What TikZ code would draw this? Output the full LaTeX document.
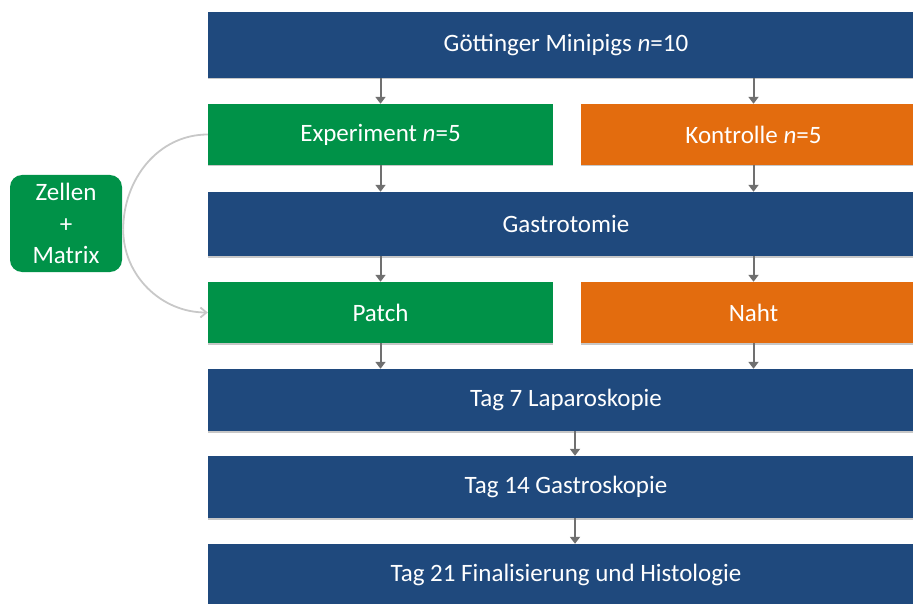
\documentclass[tikz,border=0pt]{standalone}
\usepackage{fontspec}
\setmainfont{Carlito}
\usetikzlibrary{arrows.meta,shadows}
\definecolor{stepblue}{RGB}{31,73,125}
\definecolor{stepgreen}{RGB}{0,146,72}
\definecolor{steporange}{RGB}{227,108,14}
\definecolor{arrowgray}{RGB}{112,112,112}
\definecolor{curvegray}{RGB}{200,200,200}
\tikzset{
box/.style={minimum height=62pt,inner sep=0pt,text=white,font=\fontsize{25}{30}\selectfont,
  drop shadow={shadow xshift=0pt,shadow yshift=-1.5pt,fill=black!22,opacity=1}},
widebox/.style={box,fill=stepblue,minimum width=716pt},
greenbox/.style={box,fill=stepgreen,minimum width=345pt},
orangebox/.style={box,fill=steporange,minimum width=345pt},
flow/.style={draw=arrowgray,line width=2pt,-{Triangle[length=7pt,width=10pt]}},
}
\begin{document}
\begin{tikzpicture}[x=1pt,y=-1pt]
\useasboundingbox (0,0) rectangle (913,604);
\clip (0,0) rectangle (913,604);
% main column
\node[widebox,minimum height=66pt] (minipigs) at (566,45) {Göttinger Minipigs \textit{n}=10};
\node[greenbox,minimum height=61pt] (experiment) at (380.5,134.5) {Experiment \textit{n}=5};
\node[orangebox,minimum height=61pt] (kontrolle) at (753.5,134.5) {Kontrolle \textit{n}=5};
\node[widebox,minimum height=64pt] (gastrotomie) at (566,224) {Gastrotomie};
\node[greenbox,minimum height=61pt] (patch) at (380.5,312.5) {Patch};
\node[orangebox,minimum height=61pt] (naht) at (753.5,312.5) {Naht};
\node[widebox] (tag7) at (566,400) {Tag 7 Laparoskopie};
\node[widebox] (tag14) at (566,487) {Tag 14 Gastroskopie};
\node[widebox] (tag21) at (566,575) {Tag 21 Finalisierung und Histologie};
% side box
\node[fill=stepgreen,rounded corners=12pt,minimum width=112pt,minimum height=97pt,
  text=white,align=center,font=\fontsize{25}{31.5}\selectfont] (zellen) at (66,223.5) {Zellen\\+\\Matrix};
% arrows
\foreach \a/\b in {minipigs/experiment,experiment/gastrotomie,gastrotomie/patch,patch/tag7}
{
\draw[flow] (\a.south -| experiment) -- (\b.north -| experiment);
}
\foreach \a/\b in {minipigs/kontrolle,kontrolle/gastrotomie,gastrotomie/naht,naht/tag7}
{
\draw[flow] (\a.south -| kontrolle) -- (\b.north -| kontrolle);
}
\draw[flow] ([xshift=9pt]tag7.south) -- ([xshift=9pt]tag14.north);
\draw[flow] ([xshift=9pt]tag14.south) -- ([xshift=9pt]tag21.north);
% cells and matrix
\draw[curvegray,line width=1.8pt] ([xshift=1pt,yshift=-6pt]zellen.east) to[out=90,in=180] (experiment.west);
\draw[curvegray,line width=1.8pt,-{Straight Barb[length=6pt,width=10pt]}] ([xshift=1pt,yshift=-6pt]zellen.east) to[out=-90,in=180] (patch.west);
\end{tikzpicture}
\end{document}
